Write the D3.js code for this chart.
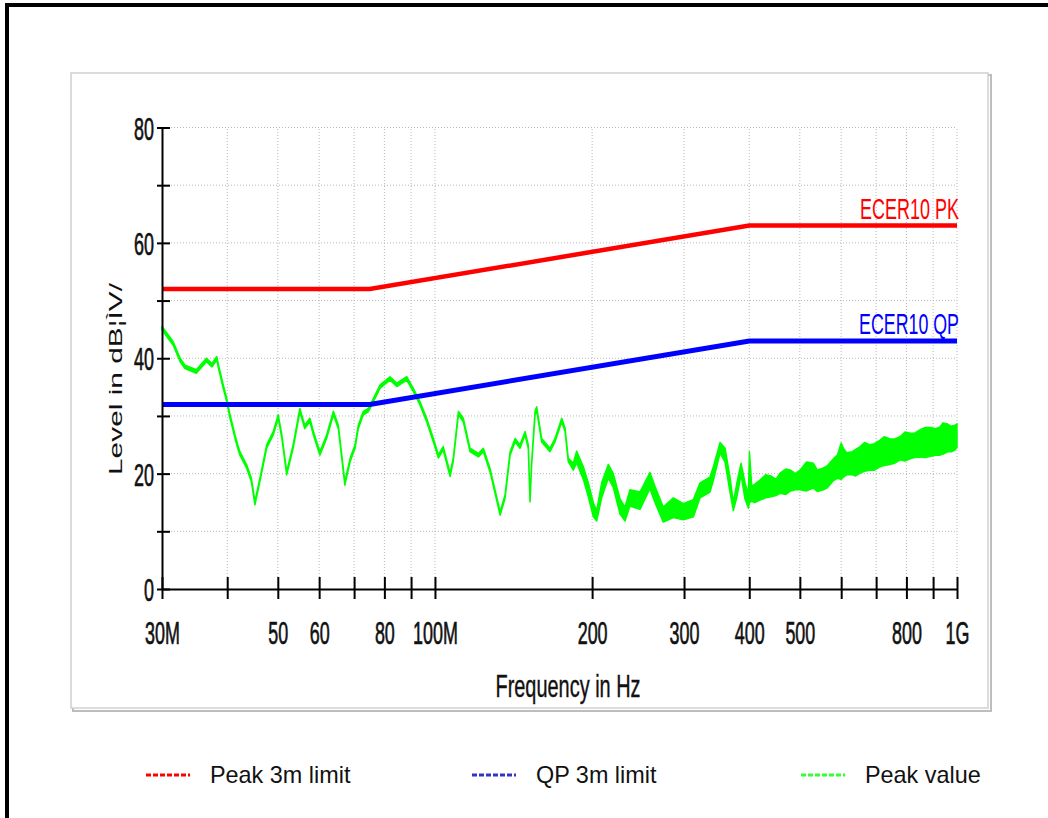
<!DOCTYPE html>
<html>
<head>
<meta charset="utf-8">
<script src="https://cdn.jsdelivr.net/npm/d3@7"></script>
<style>
  body { margin: 0; background: #fff; }
  svg { display: block; font-family: "Liberation Sans", Arial, sans-serif; }
</style>
</head>
<body>
<svg id="chart" width="1048" height="818"></svg>
<script>
// frequency ticks (Hz) and their labels
const xTicks = [30e6, 40e6, 50e6, 60e6, 70e6, 80e6, 90e6, 100e6,
  200e6, 300e6, 400e6, 500e6, 600e6, 700e6, 800e6, 900e6, 1e9];
const xTickLabels = {30e6: "30M", 50e6: "50", 60e6: "60", 80e6: "80", 100e6: "100M",
  200e6: "200", 300e6: "300", 400e6: "400", 500e6: "500", 800e6: "800", 1e9: "1G"};
const yTicks = [0, 10, 20, 30, 40, 50, 60, 70, 80];

// limit lines (MHz, dBuV)
const limitFreq = [30, 75, 400, 1000];
const pkLimit = [52, 52, 63, 63];
const qpLimit = [32, 32, 43, 43];

// measured peak trace, min / max per frequency point
const peakFreq = [30.0, 31.5, 32.5, 33.2, 34.9, 36.5, 37.4, 38.2, 38.5, 39.3, 39.9, 40.5, 41.4, 41.9, 42.3,
  43.6, 44.5, 45.2, 46.2, 47.6, 49.0, 50.1, 50.9, 52.0, 53.5, 55.1, 56.3, 57.6, 58.5, 60.2, 62.0, 63.9,
  65.3, 67.2, 68.8, 70.3, 71.3, 72.9, 74.5, 75.7, 78.5, 82.0, 84.5, 88.3, 90.9, 93.6, 96.4, 99.3, 101.5,
  103.7, 106.9, 108.4, 110.9, 113.3, 116.7, 121.1, 123.8, 127.5, 133.3, 136.2, 139.3, 142.4, 145.5,
  148.8, 150.9, 152.1, 153.2, 155.5, 156.6, 160.1, 166.1, 169.8, 174.9, 177.5, 180.0, 184.1, 186.8,
  192.4, 196.7, 201.1, 204.1, 208.6, 214.8, 219.6, 226.2, 231.2, 236.4, 247.0, 258.1, 263.9, 273.7,
  286.2, 299.0, 312.6, 322.0, 336.4, 341.4, 351.7, 359.5, 367.4, 372.9, 378.4, 385.8, 392.6, 398.5,
  400.3, 404.4, 410.0, 419.4, 430.0, 440.0, 450.0, 458.2, 470.0, 480.0, 490.0, 500.4, 515.0, 530.7,
  540.0, 554.7, 565.0, 580.0, 590.0, 600.0, 605.8, 615.0, 630.0, 640.0, 652.3, 665.0, 680.0, 695.0,
  712.3, 725.0, 745.0, 760.0, 778.0, 795.0, 815.0, 830.0, 849.4, 870.0, 890.0, 910.0, 927.9, 940.0,
  960.0, 975.0, 991.2, 1000.0];
const peakLow = [44.9, 42.3, 39.4, 38.2, 37.4, 39.4, 38.5, 39.7, 38.2, 34.8, 32.5, 29.6, 26.1, 24.4, 23.2,
  20.9, 18.6, 14.6, 18.6, 24.4, 26.7, 29.6, 26.1, 19.8, 24.4, 30.7, 27.8, 29.0, 26.7, 23.2, 26.1, 30.2,
  27.8, 18.0, 22.1, 24.4, 27.8, 30.2, 30.7, 31.9, 34.8, 36.2, 35.1, 36.2, 34.2, 31.9, 29.0, 25.5, 22.7,
  24.1, 19.5, 22.1, 30.2, 29.0, 23.8, 22.9, 23.8, 20.3, 12.8, 15.7, 23.2, 25.5, 24.4,
  26.7, 24.4, 15.1, 21.5, 30.2, 31.0, 25.5, 23.8, 25.5, 29.0, 27.3, 22.1, 20.6, 21.9,
  19.0, 16.0, 12.5, 11.8, 15.8, 19.2, 17.6, 13.0, 11.8, 14.4, 13.8, 17.4, 15.0, 11.6,
  12.4, 12.0, 12.5, 15.8, 16.8, 18.8, 23.6, 22.0, 16.8, 13.6, 15.8, 19.8, 15.6, 14.0,
  15.0, 15.2, 15.0, 15.4, 15.8, 16.0, 16.2, 16.6, 16.4, 17.0, 17.2, 17.2, 17.0, 17.5,
  16.9, 17.2, 17.6, 18.8, 19.2, 19.0, 19.4, 19.8, 19.8, 19.6, 20.1, 20.4, 20.6, 20.6,
  21.2, 21.4, 21.6, 21.8, 22.4, 22.2, 22.6, 22.8, 22.9, 22.8, 23.0, 23.2, 23.2, 23.4,
  23.8, 23.8, 24.1, 24.6];
const peakHigh = [45.5, 42.9, 40.0, 38.8, 38.0, 40.0, 39.1, 40.3, 38.8, 35.4, 33.1, 30.2, 26.7, 25.0, 23.8,
  21.5, 19.2, 15.2, 19.2, 25.0, 27.3, 30.2, 26.7, 20.4, 25.0, 31.3, 28.4, 29.6, 27.3, 23.8, 26.7, 30.8,
  28.4, 18.6, 22.7, 25.0, 28.4, 30.8, 31.3, 32.5, 35.4, 36.8, 35.7, 36.8, 34.8, 32.5, 29.6, 26.1, 23.3,
  24.7, 20.1, 22.7, 30.8, 29.6, 24.4, 23.5, 24.4, 20.9, 13.4, 16.3, 23.8, 26.1, 25.0,
  27.3, 25.0, 15.7, 22.1, 30.8, 31.6, 26.1, 24.4, 26.1, 29.6, 27.9, 22.7, 21.8, 23.9,
  21.2, 18.4, 14.9, 13.6, 18.4, 21.6, 20.0, 15.6, 14.2, 17.2, 16.8, 20.2, 17.8, 14.2,
  15.8, 14.8, 15.5, 18.4, 19.4, 21.2, 25.4, 24.4, 19.4, 15.0, 18.2, 21.8, 18.4, 16.4,
  23.8, 17.8, 18.2, 18.9, 19.8, 19.6, 19.0, 20.1, 20.8, 20.6, 20.0, 20.6, 22.0, 21.8,
  20.6, 21.0, 21.4, 22.6, 23.2, 25.3, 24.4, 23.6, 23.8, 24.2, 24.7, 25.4, 25.0, 25.2,
  25.8, 26.4, 26.0, 26.0, 26.4, 27.2, 27.0, 27.0, 27.6, 28.0, 28.0, 27.8, 28.1, 28.8,
  28.6, 28.2, 28.4, 28.6];

const legendItems = [
  {label: "Peak 3m limit", color: "#ff0000"},
  {label: "QP 3m limit", color: "#3333cc"},
  {label: "Peak value", color: "#33ff33"}
];

const svg = d3.select("#chart");

// outer frame
svg.append("line").attr("x1", 6).attr("x2", 1048).attr("y1", 5).attr("y2", 5)
  .attr("stroke", "#000").attr("stroke-width", 4);
svg.append("line").attr("x1", 7).attr("x2", 7).attr("y1", 3).attr("y2", 818)
  .attr("stroke", "#000").attr("stroke-width", 4);

// chart panel with a light shadow
svg.append("rect").attr("x", 73).attr("y", 75).attr("width", 918).attr("height", 636)
  .attr("fill", "none").attr("stroke", "#bdbdbd").attr("stroke-width", 2);
svg.append("rect").attr("x", 71).attr("y", 73).attr("width", 917).attr("height", 635)
  .attr("fill", "#fff").attr("stroke", "#d0d0d0").attr("stroke-width", 1.5);

const x = d3.scaleLog().domain([30e6, 1e9]).range([162, 957]);
const y = d3.scaleLinear().domain([0, 80]).range([589, 127.5]);

// dotted grid
const grid = svg.append("g").attr("stroke", "#b8b8b8").attr("stroke-width", 1)
  .attr("stroke-dasharray", "1,2");
grid.selectAll(".gy").data(yTicks.filter(d => d > 0)).join("line")
  .attr("x1", x(30e6)).attr("x2", x(1e9))
  .attr("y1", d => y(d)).attr("y2", d => y(d));
grid.selectAll(".gx").data(xTicks.filter(d => d > 30e6)).join("line")
  .attr("x1", d => x(d)).attr("x2", d => x(d))
  .attr("y1", y(0)).attr("y2", y(80));

// peak trace
const peakData = peakFreq.map((f, i) => ({f: f * 1e6, lo: peakLow[i], hi: peakHigh[i]}));
svg.append("path").datum(peakData)
  .attr("d", d3.area().x(d => x(d.f)).y0(d => y(d.lo)).y1(d => y(d.hi)))
  .attr("fill", "#00ff00").attr("stroke", "#00ff00").attr("stroke-width", 1.5)
  .attr("stroke-linejoin", "round");

// limit lines
const limLine = d3.line().x(d => x(d[0] * 1e6)).y(d => y(d[1]));
svg.append("path").datum(limitFreq.map((f, i) => [f, qpLimit[i]]))
  .attr("d", limLine).attr("fill", "none").attr("stroke", "#0000ff").attr("stroke-width", 5);
svg.append("path").datum(limitFreq.map((f, i) => [f, pkLimit[i]]))
  .attr("d", limLine).attr("fill", "none").attr("stroke", "#ff0000").attr("stroke-width", 4.5);

svg.append("text").attr("x", 959).attr("y", 219).attr("text-anchor", "end")
  .attr("font-size", 30).attr("fill", "#ff0000")
  .attr("textLength", 99).attr("lengthAdjust", "spacingAndGlyphs").text("ECER10 PK");
svg.append("text").attr("x", 959).attr("y", 334).attr("text-anchor", "end")
  .attr("font-size", 30).attr("fill", "#0000ff")
  .attr("textLength", 100).attr("lengthAdjust", "spacingAndGlyphs").text("ECER10 QP");

// axes
const xAxis = svg.append("g").attr("transform", "translate(0," + y(0) + ")")
  .call(d3.axisBottom(x).tickValues(xTicks).tickSizeOuter(0)
    .tickFormat(d => xTickLabels[d] || ""));
const yAxis = svg.append("g").attr("transform", "translate(" + x(30e6) + ",0)")
  .call(d3.axisLeft(y).tickValues(yTicks).tickSizeOuter(0)
    .tickFormat(d => d % 20 === 0 ? d : ""));

[xAxis, yAxis].forEach(g => {
  g.select(".domain").attr("stroke", "#000").attr("stroke-width", 2);
  g.selectAll(".tick line").attr("stroke", "#000").attr("stroke-width", 2);
  g.selectAll(".tick text").attr("font-family", "'Liberation Sans', Arial, sans-serif")
    .attr("font-size", 32).attr("fill", "#111")
    .attr("stroke", "#111").attr("stroke-width", 0.7);
});
xAxis.selectAll(".tick line").attr("y1", -12).attr("y2", 10);
xAxis.selectAll(".tick text").attr("y", 0).attr("dy", null)
  .attr("transform", "translate(0,55) scale(0.56,1)");
yAxis.selectAll(".tick line").attr("x1", 8).attr("x2", -5);
yAxis.selectAll(".tick text").attr("x", 0).attr("dy", "0.36em")
  .attr("transform", "translate(-8,0) scale(0.56,1)");

// axis titles
svg.append("text").attr("x", 568).attr("y", 697).attr("text-anchor", "middle")
  .attr("font-size", 32).attr("fill", "#111").attr("stroke", "#111").attr("stroke-width", 0.4)
  .attr("textLength", 145).attr("lengthAdjust", "spacingAndGlyphs").text("Frequency in Hz");
svg.append("text").attr("transform", "translate(122,379) rotate(-90)")
  .attr("text-anchor", "middle").attr("font-size", 19).attr("fill", "#111")
  .attr("textLength", 192).attr("lengthAdjust", "spacingAndGlyphs").text("Level in dB¦ÌV/");

// legend
const legendX = [146, 472, 801];
const legend = svg.selectAll(".legend").data(legendItems).join("g")
  .attr("transform", (d, i) => "translate(" + legendX[i] + ",775)");
legend.append("line").attr("x1", 0).attr("x2", 44).attr("y1", 0).attr("y2", 0)
  .attr("stroke", d => d.color).attr("stroke-width", 3).attr("stroke-dasharray", "5,2");
legend.append("text").attr("x", 64).attr("y", 8).attr("font-size", 23.4).attr("fill", "#111")
  .text(d => d.label);
</script>
</body>
</html>
